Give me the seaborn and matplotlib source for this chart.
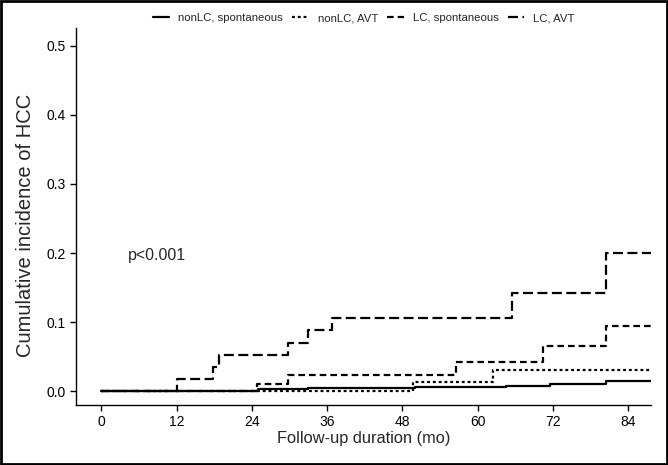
import pandas as pd
import matplotlib.pyplot as plt
import seaborn as sns

# cumulative incidence step curves (months, incidence)
t_nonlc_spont = [0, 21, 25, 33, 50, 64.5, 71.5, 80.5, 87.7]
y_nonlc_spont = [0, 0.001, 0.003, 0.005, 0.006, 0.008, 0.011, 0.015, 0.015]

t_nonlc_avt = [0, 49.7, 62.5, 87.7]
y_nonlc_avt = [0, 0.013, 0.031, 0.031]

t_lc_spont = [0, 24.8, 29.8, 56.5, 70.5, 80.5, 87.7]
y_lc_spont = [0, 0.011, 0.023, 0.042, 0.066, 0.095, 0.095]

t_lc_avt = [0, 12, 17.8, 18.8, 29.8, 33, 36.8, 65.5, 80.5, 87.7]
y_lc_avt = [0, 0.017, 0.035, 0.052, 0.070, 0.088, 0.106, 0.142, 0.200, 0.200]

groups = ["nonLC, spontaneous", "nonLC, AVT", "LC, spontaneous", "LC, AVT"]
x_ticks = [0, 12, 24, 36, 48, 60, 72, 84]
y_ticks = [0.0, 0.1, 0.2, 0.3, 0.4, 0.5]

sns.set_style("white")
plt.rcParams['font.family'] = ['Liberation Sans', 'DejaVu Sans']

fig = plt.figure(figsize=(6.68, 4.65), dpi=100)
ax = fig.add_axes([0.114, 0.129, 0.861, 0.811])

series = [(t_nonlc_spont, y_nonlc_spont, None),
          (t_nonlc_avt, y_nonlc_avt, (1.3, 1.3)),
          (t_lc_spont, y_lc_spont, (3, 1.8)),
          (t_lc_avt, y_lc_avt, (4.5, 2))]

for name, (t, y, dash) in zip(groups, series):
    df = pd.DataFrame({"time": t, "inc": y})
    sns.lineplot(data=df, x="time", y="inc", ax=ax, color="black",
                 drawstyle="steps-post", linewidth=1.6, label=name)
    if dash is not None:
        ax.get_lines()[-1].set_dashes(dash)

ax.set_xlim(-4, 87.7)
ax.set_ylim(-0.02, 0.526)
ax.set_xticks(x_ticks)
ax.set_yticks(y_ticks)
ax.set_yticklabels([f"{v:.1f}" for v in y_ticks])
ax.tick_params(axis="both", direction="out", length=4, width=1, colors="black",
               labelsize=10, bottom=True, left=True)
for s in ["top", "right"]:
    ax.spines[s].set_visible(False)
for s in ["left", "bottom"]:
    ax.spines[s].set_color("black")
    ax.spines[s].set_linewidth(1)

ax.set_xlabel("Follow-up duration (mo)", fontsize=11.8, labelpad=1)
ax.set_ylabel("Cumulative incidence of HCC", fontsize=14.5)
ax.yaxis.set_label_coords(-0.072, 0.477)
ax.text(4.3, 0.196, "p<0.001", fontsize=11.5, va="center", ha="left")

leg = ax.legend(loc="lower center", bbox_to_anchor=(0.5, 1.0), ncol=4, frameon=False,
                prop={"size": 8.2}, handlelength=1.45, columnspacing=0.8,
                handletextpad=0.8, borderaxespad=0.0)

# border around whole figure
fig.patches.append(plt.Rectangle((0.002, 0.003), 0.996, 0.994, transform=fig.transFigure,
                                 fill=False, edgecolor="black", linewidth=2))

fig.savefig("out.png", dpi=100)
